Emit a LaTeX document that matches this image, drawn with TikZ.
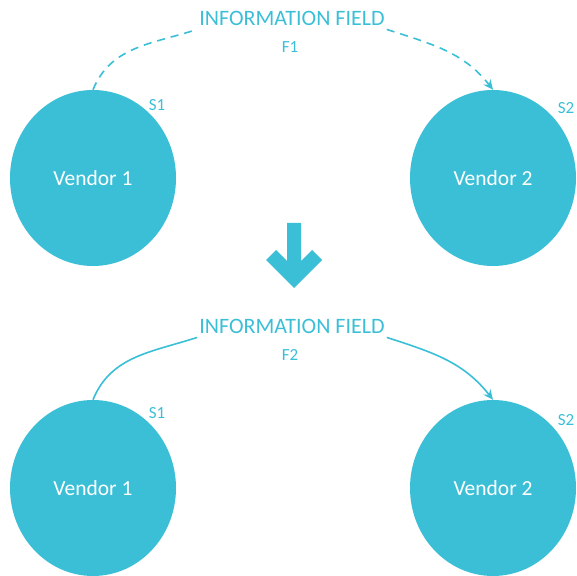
\documentclass[tikz,border=0pt]{standalone}
\usepackage{fontspec}
\setmainfont{Carlito}
\usepackage{tikz}
\usetikzlibrary{positioning, arrows.meta, shapes.geometric}
\definecolor{vendorCyan}{HTML}{3BBFD7}

\tikzset{
  vendor/.style={ellipse, fill=vendorCyan, minimum width=166pt, minimum height=176pt,
                 inner sep=0pt, font=\fontsize{21.5}{25}\selectfont, text=white},
  fieldlabel/.style={font=\fontsize{22}{26}\selectfont, text=vendorCyan, inner sep=0pt},
  smalllabel/.style={font=\fontsize{17}{20}\selectfont, text=vendorCyan, inner sep=0pt},
  flow/.style={line width=1.6pt, draw=vendorCyan, -{Stealth[length=10pt, width=9pt]}},
}

\begin{document}
\begin{tikzpicture}[x=1pt, y=1pt]
  \useasboundingbox (0,0) rectangle (577,575);

  % before: dashed field F1
  \node[vendor] (v1) at (93, 397) {Vendor 1};
  \node[vendor] (v2) at (493, 397) {Vendor 2};
  \node[fieldlabel] (info1) at (292, 557) {INFORMATION FIELD};
  \node[smalllabel] (f1) at (290, 528) {F1};
  \node[smalllabel] (s1) at (157, 470) {S1};
  \node[smalllabel] (s2) at (566, 467) {S2};
  \draw[flow, -, dash pattern=on 8pt off 6pt] (v1.north) to[out=68, in=198] ([shift={(-2,-4)}]info1.south west);
  \draw[flow, dash pattern=on 8pt off 6pt] ([shift={(2,-4)}]info1.south east) to[out=-18, in=128] (v2.north);

  % big arrow down
  \fill[vendorCyan] (287,352) -- (301,352) -- (301,314) -- (312,325) -- (322,315) -- (294,287)
    -- (266,315) -- (276,325) -- (287,314) -- cycle;

  % after: solid field F2
  \node[vendor] (v3) at (93, 87) {Vendor 1};
  \node[vendor] (v4) at (493, 87) {Vendor 2};
  \node[fieldlabel] (info2) at (292, 249) {INFORMATION FIELD};
  \node[smalllabel] (f2) at (290, 220) {F2};
  \node[smalllabel] (s3) at (157, 162) {S1};
  \node[smalllabel] (s4) at (566, 155) {S2};
  \draw[flow, -] (v3.north) to[out=68, in=198] ([shift={(-2,-4)}]info2.south west);
  \draw[flow] ([shift={(2,-4)}]info2.south east) to[out=-18, in=128] (v4.north);
\end{tikzpicture}
\end{document}
